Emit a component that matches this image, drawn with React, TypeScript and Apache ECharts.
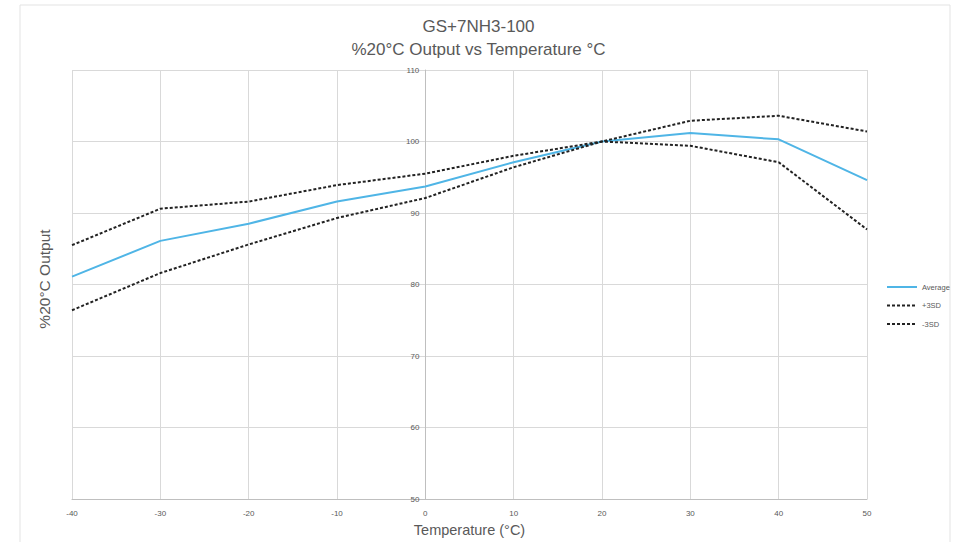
import React, { useEffect, useRef } from "react";
import * as echarts from "echarts";

const temps = [-40, -30, -20, -10, 0, 10, 20, 30, 40, 50];
const average = [81.1, 86.1, 88.5, 91.6, 93.7, 97.1, 100, 101.2, 100.3, 94.6];
const plus3SD = [85.5, 90.6, 91.6, 93.9, 95.5, 98.0, 100, 102.9, 103.6, 101.4];
const minus3SD = [76.4, 81.6, 85.6, 89.3, 92.1, 96.4, 100, 99.4, 97.1, 87.7];

const titleLines = ["GS+7NH3-100", "%20°C Output vs Temperature °C"];
const xName = "Temperature (°C)";
const yName = "%20°C Output";

const FONT = "'Liberation Sans', Arial, sans-serif";
const TXT = "#595959";

const GRID_LEFT = 72;
const GRID_RIGHT = 90;
const CHART_W = 957;
const X_MIN = -40;
const X_MAX = 50;

export default function App() {
  const ref = useRef<HTMLDivElement>(null);
  useEffect(() => {
    if (!ref.current) return;
    const chart = echarts.init(ref.current, undefined, { renderer: "svg" });
    const pair = (arr: number[]) => temps.map((t, i) => [t, arr[i]]);
    const plotW = CHART_W - GRID_LEFT - GRID_RIGHT;
    const zeroOffset = ((0 - X_MIN) / (X_MAX - X_MIN)) * plotW;
    chart.setOption({
      animation: false,
      backgroundColor: "#ffffff",
      textStyle: { fontFamily: FONT },
      title: {
        text: titleLines.join("\n"),
        left: "center",
        top: 10,
        padding: [5, 5, 5, 21],
        textStyle: { fontSize: 17, fontWeight: "normal", color: TXT, lineHeight: 23, fontFamily: FONT },
      },
      graphic: [
        {
          type: "rect",
          shape: { x: 20, y: 5, width: 930, height: 545 },
          style: { fill: "none", stroke: "#e3e3e3", lineWidth: 1 },
          silent: true,
        },
        {
          type: "text",
          x: 44,
          y: 279,
          rotation: Math.PI / 2,
          style: {
            text: yName,
            fontSize: 15.5,
            fill: TXT,
            fontFamily: FONT,
            align: "center",
            verticalAlign: "middle",
          },
        },
      ],
      legend: {
        orient: "vertical",
        left: 881,
        top: 278,
        itemWidth: 30,
        itemHeight: 8,
        itemGap: 10.5,
        itemStyle: { opacity: 0 },
        textStyle: { fontSize: 7.5, color: TXT, fontFamily: FONT },
        data: ["Average", "+3SD", "-3SD"],
      },
      grid: { left: GRID_LEFT, right: GRID_RIGHT, top: 70, bottom: 40 },
      xAxis: {
        type: "value",
        min: X_MIN,
        max: X_MAX,
        interval: 10,
        name: xName,
        nameLocation: "middle",
        nameGap: 23,
        nameTextStyle: { fontSize: 14.5, color: TXT, fontFamily: FONT },
        axisLine: { show: true, onZero: false, lineStyle: { color: "#bfbfbf" } },
        axisTick: { show: false },
        axisLabel: { fontSize: 8, color: TXT, margin: 10, fontFamily: FONT },
        splitLine: { show: true, lineStyle: { color: "#d9d9d9" } },
      },
      yAxis: {
        type: "value",
        min: 50,
        max: 110,
        interval: 10,
        offset: -zeroOffset,
        axisLine: { show: true, onZero: false, lineStyle: { color: "#bfbfbf" } },
        axisTick: { show: false },
        axisLabel: { fontSize: 8, color: TXT, margin: 6, fontFamily: FONT },
        splitLine: { show: true, lineStyle: { color: "#d9d9d9" } },
      },
      series: [
        {
          name: "Average",
          type: "line",
          data: pair(average),
          symbol: "none",
          lineStyle: { color: "#4fb5e6", width: 2 },
          itemStyle: { color: "#4fb5e6" },
          z: 3,
        },
        {
          name: "+3SD",
          type: "line",
          data: pair(plus3SD),
          symbol: "none",
          lineStyle: { color: "#222222", width: 2, type: [3, 2] },
          itemStyle: { color: "#222222" },
        },
        {
          name: "-3SD",
          type: "line",
          data: pair(minus3SD),
          symbol: "none",
          lineStyle: { color: "#222222", width: 2, type: [3, 2] },
          itemStyle: { color: "#222222" },
        },
      ],
    });
    return () => chart.dispose();
  }, []);
  return (
    <div
      ref={ref}
      style={{ position: "fixed", left: 0, top: 0, width: CHART_W, height: 542 }}
    />
  );
}
